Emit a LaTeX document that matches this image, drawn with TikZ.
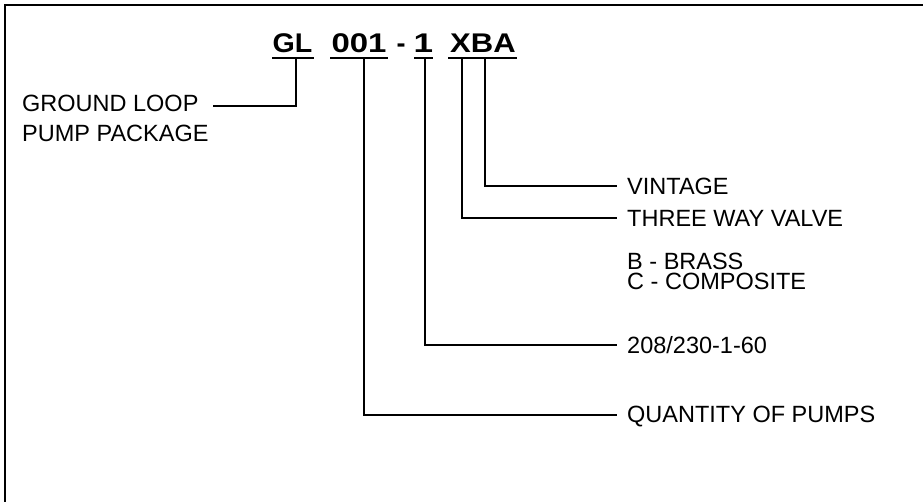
\documentclass[tikz,border=0pt]{standalone}
\usepackage{fontspec}
\usepackage{graphicx}
\setmainfont{Liberation Sans}
\begin{document}
\begin{tikzpicture}[x=1pt,y=-1pt,
  frame/.style={line width=2.6pt, line cap=rect},
  lead/.style={line width=2pt},
  uline/.style={line width=2.8pt},
  ttl/.style={inner sep=0pt, anchor=base, font=\fontsize{27}{27}\selectfont\bfseries},
  lbl/.style={inner sep=0pt, anchor=west, font=\fontsize{23.5}{23.5}\selectfont, text height=16.8pt, text depth=0pt},
]
\useasboundingbox (0,0) rectangle (923,502);
\draw[frame] (5,502) -- (5,5) -- (923,5);

% title pieces
\node[ttl] (gl)   at (292.5,53) {\scalebox{1.06}[1]{GL}};
\node[ttl] (qty)  at (359,53)   {\scalebox{1.22}[1]{001}};
\node[ttl] (dash) at (401,53)   {-};
\node[ttl] (volt) at (423.5,53) {\scalebox{1.3}[1]{1}};
\node[ttl] (xba)  at (483,53)   {\scalebox{1.15}[1]{XBA}};

% underlines
\coordinate (u1a) at (272,58); \coordinate (u1b) at (314,58);
\coordinate (u2a) at (330,58); \coordinate (u2b) at (388,58);
\coordinate (u3a) at (414,58); \coordinate (u3b) at (433,58);
\coordinate (u4a) at (448,58); \coordinate (u4b) at (517,58);
\draw[uline] (u1a) -- (u1b);
\draw[uline] (u2a) -- (u2b);
\draw[uline] (u3a) -- (u3b);
\draw[uline] (u4a) -- (u4b);

% lead tops
\coordinate (gl-top) at (296,58);
\coordinate (q-top)  at (364,58);
\coordinate (v-top)  at (425,58);
\coordinate (x-top)  at (462,58);
\coordinate (b-top)  at (485,58);

% labels
\node[lbl, anchor=base west] (ground) at (22,112) {GROUND LOOP};
\node[lbl, anchor=base west] (pump)   at (22,142) {PUMP PACKAGE};
\coordinate (gl-end) at (213,106);

\node[lbl] (vintage) at (627,186)   {VINTAGE};
\node[lbl] (valve)   at (627,218.5) {THREE WAY VALVE};
\node[inner sep=0pt, anchor=base west, align=left,
      font=\fontsize{23.5}{20}\selectfont] (brass) at (627,290)
      {B - BRASS\\C - COMPOSITE};
\node[lbl] (power)   at (627,345)   {208/230-1-60};
\node[lbl] (pumps)   at (627,414.5) {QUANTITY OF PUMPS};

% leads
\draw[lead] (gl-top) |- (gl-end);
\draw[lead] (b-top) |- ([xshift=-10pt]vintage.west);
\draw[lead] (x-top) |- ([xshift=-10pt]valve.west);
\draw[lead] (v-top) |- ([xshift=-10pt]power.west);
\draw[lead] (q-top) |- ([xshift=-10pt]pumps.west);
\end{tikzpicture}
\end{document}
